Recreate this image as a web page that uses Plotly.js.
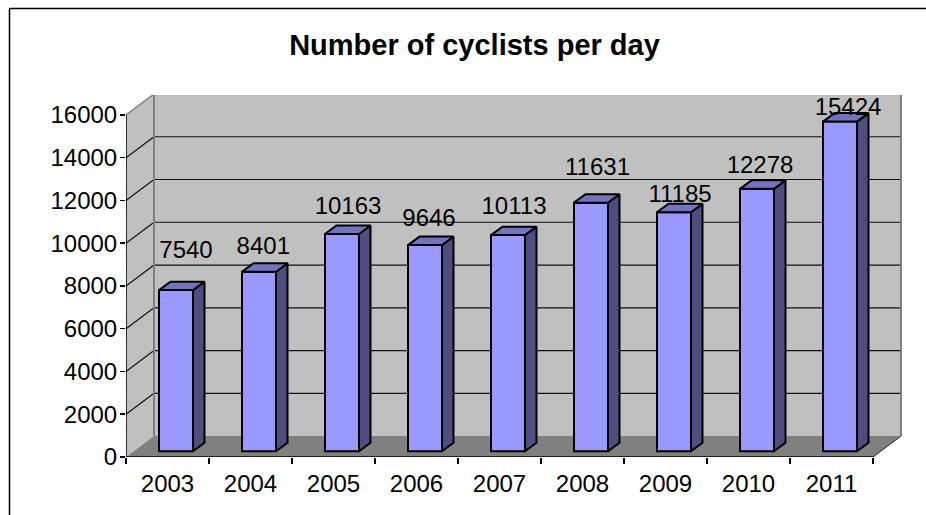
<!DOCTYPE html>
<html>
<head>
<meta charset="utf-8">
<script src="https://cdn.plot.ly/plotly-3.0.1.min.js"></script>
<style>html,body{margin:0;padding:0;background:#fff;overflow:hidden}</style>
</head>
<body>
<div id="chart" style="width:926px;height:515px"></div>
<script>
const years = ["2003","2004","2005","2006","2007","2008","2009","2010","2011"];
const cyclists = [7540,8401,10163,9646,10113,11631,11185,12278,15424];
const yTicks = [0,2000,4000,6000,8000,10000,12000,14000,16000];

// label placement relative to each bar (px, right / up from bar centre-top)
const labelDx = [10,4.3,6,4,6,6.5,6,3,8];
const labelDy = [38.7,24.2,25.7,25.5,26.8,34,16.5,22,13];

const unitX = 1/83, unitY = 16000/343;     // data units per pixel
const depth = {x:28*unitX, y:21*unitY};    // oblique depth of the plot box
const bar = {
  half: 17*unitX,
  shiftX: 8.5*unitX, shiftY: 5.7*unitY,    // bar front face offset from front plane
  dx: 11.5*unitX, dy: 8.5*unitY            // bar depth
};
const xL = -0.5, xR = 8.5, yT = 16000;

const poly = (pts, fill, line) => ({
  type:'path', layer:'below', xref:'x', yref:'y',
  path: pts.map((p,i)=>(i?'L':'M')+p[0]+','+p[1]).join(' ')+' Z',
  fillcolor: fill, line: line || {width:0}
});
const seg = (a,b,color,width) => ({
  type:'line', layer:'below', xref:'x', yref:'y',
  x0:a[0], y0:a[1], x1:b[0], y1:b[1], line:{color, width}
});

const shapes = [
  poly([[xL,0],[xL,yT],[xL+depth.x,yT+depth.y],[xL+depth.x,depth.y]],'#c0c0c0'),
  poly([[xL+depth.x,depth.y],[xR+depth.x,depth.y],[xR+depth.x,yT+depth.y],[xL+depth.x,yT+depth.y]],'#c0c0c0'),
  poly([[xL,0],[xL+depth.x,depth.y],[xR+depth.x,depth.y],[xR,0]],'#808080')
];
yTicks.slice(1,-1).forEach(v=>{
  shapes.push(seg([xL,v],[xL+depth.x,v+depth.y],'#111',1.2));
  shapes.push(seg([xL+depth.x,v+depth.y],[xR+depth.x,v+depth.y],'#111',1.2));
});
shapes.push(seg([xL,yT],[xL+depth.x,yT+depth.y],'#808080',1.5));
shapes.push(seg([xL+depth.x,yT+depth.y],[xR+depth.x,yT+depth.y],'#808080',2));
shapes.push(seg([xL+depth.x,depth.y],[xL+depth.x,yT+depth.y],'#808080',2));
shapes.push(seg([xR+depth.x,depth.y],[xR+depth.x,yT+depth.y],'#808080',2));
shapes.push(seg([xR,0],[xR+depth.x,depth.y],'#222',1));
shapes.push(seg([xL,0],[xR,0],'#000',1.5));
shapes.push(seg([xL,0],[xL,yT],'#000',1.5));
// chart-area frame, cropped at the right and bottom of the picture
shapes.push({type:'line',xref:'paper',yref:'paper',x0:(9.5-126)/776,x1:(930-126)/776,y0:(457.5-7.8)/363,y1:(457.5-7.8)/363,line:{color:'#000',width:1.5}});
shapes.push({type:'line',xref:'paper',yref:'paper',x0:(9.5-126)/776,x1:(9.5-126)/776,y0:(457.5-7.8)/363,y1:(457.5-525)/363,line:{color:'#000',width:1.5}});

const sideX=[], sideY=[], topX=[], topY=[];
cyclists.forEach((v,i)=>{
  const l=i+bar.shiftX-bar.half, r=i+bar.shiftX+bar.half, b=bar.shiftY, t=v+bar.shiftY;
  sideX.push(r,r+bar.dx,r+bar.dx,r,r,null);
  sideY.push(b,b+bar.dy,t+bar.dy,t,b,null);
  topX.push(l,l+bar.dx,r+bar.dx,r,l,null);
  topY.push(t,t+bar.dy,t+bar.dy,t,t,null);
});

const outline = {color:'#000',width:2};
const traces = [
  {type:'bar', x:years.map((_,i)=>i+bar.shiftX), y:cyclists, base:cyclists.map(()=>bar.shiftY),
   width:2*bar.half, marker:{color:'#9999ff',line:outline}, hoverinfo:'skip'},
  {type:'scatter', mode:'lines', x:sideX, y:sideY, fill:'toself', fillcolor:'#4d4d80', line:outline, hoverinfo:'skip', connectgaps:false},
  {type:'scatter', mode:'lines', x:topX, y:topY, fill:'toself', fillcolor:'#7373bf', line:outline, hoverinfo:'skip', connectgaps:false},
  {type:'scatter', mode:'text', x:cyclists.map((_,i)=>i+bar.shiftX+labelDx[i]*unitX),
   y:cyclists.map((v,i)=>v+bar.shiftY+labelDy[i]*unitY), text:cyclists.map(String),
   textposition:'middle center', textfont:{family:'Liberation Sans, Arial, sans-serif',size:24,color:'#000'},
   hoverinfo:'skip', cliponaxis:false}
];

const tickFont = {family:'Liberation Sans, Arial, sans-serif',size:24,color:'#000'};
const layout = {
  width:926, height:515, showlegend:false, barmode:'overlay',
  paper_bgcolor:'#fff', plot_bgcolor:'rgba(0,0,0,0)',
  margin:{l:126,r:24,t:94.5,b:57.5,pad:0},
  title:{text:'<b>Number of cyclists per day</b>', x:474.5/926, xanchor:'center', y:1-45/515, yanchor:'middle',
         font:{family:'Liberation Sans, Arial, sans-serif',size:29,color:'#000'}},
  xaxis:{type:'linear', range:[xL, xL+776/83], showgrid:false, zeroline:false, showline:false,
         tickmode:'array', tickvals:years.map((_,i)=>i), ticktext:years,
         ticks:'outside', ticklen:5, tickcolor:'rgba(0,0,0,0)', tickfont:tickFont,
         minor:{tickmode:'array', tickvals:[-0.5,0.5,1.5,2.5,3.5,4.5,5.5,6.5,7.5,8.5], ticks:'outside', ticklen:6, tickwidth:1.5, tickcolor:'#000', showgrid:false}},
  yaxis:{range:[0,363*unitY], showgrid:false, zeroline:false, showline:false,
         tickmode:'array', tickvals:yTicks, ticks:'outside', ticklen:5, tickwidth:1.5, tickcolor:'#000',
         ticklabelstandoff:-2, tickformat:'d', tickfont:tickFont},
  shapes
};
Plotly.newPlot('chart', traces, layout, {staticPlot:true, displayModeBar:false});
</script>
</body>
</html>
